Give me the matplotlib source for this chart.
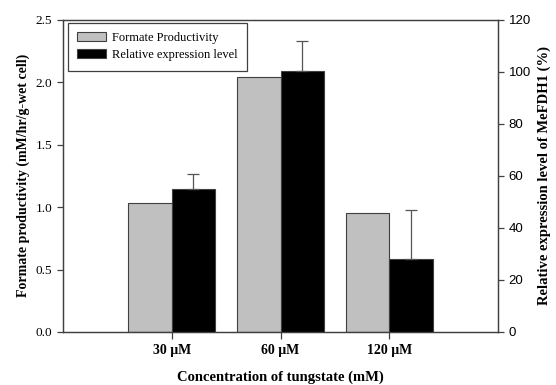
import matplotlib.pyplot as plt
import numpy as np

labels = ['30 \u03bcM', '60 \u03bcM', '120 \u03bcM']
productivity = [1.03, 2.04, 0.955]
expression = [54.8, 100.2, 28.2]
expression_err = [6.0, 11.5, 18.7]

serif = 'Liberation Serif'
sans = 'Liberation Sans'

fig = plt.figure(figsize=(5.56, 3.85), dpi=100)
ax = fig.add_axes([0.113, 0.1377, 0.783, 0.8113])
ax2 = ax.twinx()

x = np.arange(1, len(labels) + 1)
w = 0.4
edge = '#404040'

ax.bar(x - w / 2, productivity, w, color='#c0c0c0', edgecolor=edge, linewidth=0.8,
       label='Formate Productivity')
ax2.bar(x + w / 2, expression, w, color='black', edgecolor=edge, linewidth=0.8,
        label='Relative expression level')
ax2.errorbar(x + w / 2, expression, yerr=[np.zeros(3), expression_err], fmt='none',
             ecolor='#555555', elinewidth=0.9, capsize=4, capthick=0.9)

ax.set_xlim(0, 4)
ax.set_ylim(0, 2.5)
ax2.set_ylim(0, 120)
ax.set_xticks(x)
ax.set_xticklabels(labels, fontfamily=serif, fontweight='bold', fontsize=10)
ax.set_yticks([0, 0.5, 1.0, 1.5, 2.0, 2.5])
ax.set_yticklabels(['0.0', '0.5', '1.0', '1.5', '2.0', '2.5'], fontfamily=serif, fontsize=9.5)
ax2.set_yticks([0, 20, 40, 60, 80, 100, 120])
ax2.set_yticklabels([str(v) for v in [0, 20, 40, 60, 80, 100, 120]], fontfamily=sans, fontsize=9.5)

for a in (ax, ax2):
    for s in a.spines.values():
        s.set_color(edge)
        s.set_linewidth(0.9)
    a.tick_params(colors=edge, labelcolor='black', length=4, width=0.9)
ax.tick_params(axis='x', length=5)

ax.set_xlabel('Concentration of tungstate (mM)', fontfamily=serif, fontweight='bold',
              fontsize=10.5, labelpad=10)
ax.set_ylabel('Formate productivity (mM/hr/g-wet cell)', fontfamily=serif,
              fontweight='bold', fontsize=10)
ax2.set_ylabel('Relative expression level of MeFDH1 (%)', fontfamily=serif,
               fontweight='bold', fontsize=10.5, rotation=90, labelpad=5)

h1, l1 = ax.get_legend_handles_labels()
h2, l2 = ax2.get_legend_handles_labels()
leg = ax.legend(h1 + h2, l1 + l2, loc='upper left', bbox_to_anchor=(0.0115, 0.99),
                borderaxespad=0, prop={'family': serif, 'size': 9}, fancybox=False,
                edgecolor=edge, framealpha=1, handlelength=2.3, handleheight=0.75,
                handletextpad=0.5, borderpad=0.75, labelspacing=0.4)
leg.get_frame().set_linewidth(0.9)

fig.savefig('out.png', dpi=100)
